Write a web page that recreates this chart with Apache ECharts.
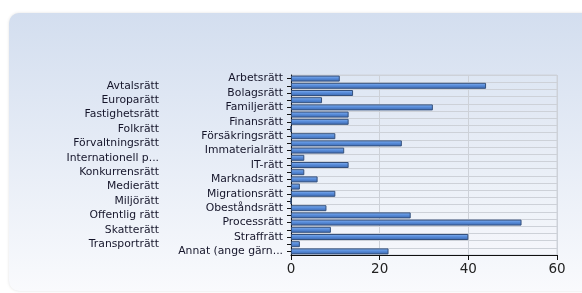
<!DOCTYPE html>
<html><head><meta charset="utf-8">
<script src="https://cdn.jsdelivr.net/npm/echarts@6/dist/echarts.min.js"></script>
<style>html,body{margin:0;padding:0;background:#fff}#c{width:582px;height:293px}</style>
</head><body><div id="c"></div>
<script>
const categories = ["Arbetsrätt","Avtalsrätt","Bolagsrätt","Europarätt","Familjerätt","Fastighetsrätt","Finansrätt","Folkrätt","Försäkringsrätt","Förvaltningsrätt","Immaterialrätt","Internationell p...","IT-rätt","Konkurrensrätt","Marknadsrätt","Medierätt","Migrationsrätt","Miljörätt","Obeståndsrätt","Offentlig rätt","Processrätt","Skatterätt","Straffrätt","Transporträtt","Annat (ange gärn..."];
const values = [11,44,14,7,32,13,13,0,10,25,12,3,13,3,6,2,10,0,8,27,52,9,40,2,22];
const xTicks = [0,20,40,60];

const FS = 10.8;
const chart = echarts.init(document.getElementById('c'), null, {renderer:'canvas'});
chart.setOption({
  animation:false,
  graphic:[{type:'rect',z:-10,shape:{x:9,y:13,width:600,height:278,r:10},
    style:{fill:new echarts.graphic.LinearGradient(0,0,0,1,[{offset:0,color:'#d3deef'},{offset:1,color:'#f9fafd'}]),
      shadowBlur:3,shadowColor:'rgba(0,0,0,0.12)'}}],
  grid:{left:291,top:75,right:25,bottom:38,show:true,borderColor:'#cfd3da',borderWidth:1,backgroundColor:'rgba(255,255,255,0.08)'},
  xAxis:{type:'value',min:xTicks[0],max:xTicks[xTicks.length-1],interval:20,
    axisLine:{show:true,lineStyle:{color:'#111',width:1}},
    axisTick:{show:true,length:5,lineStyle:{color:'#111'}},
    axisLabel:{fontFamily:'DejaVu Sans',fontSize:13.5,color:'#222',margin:7},
    splitLine:{show:true,lineStyle:{color:'#cdd1d8'}}},
  yAxis:{type:'category',data:categories,inverse:true,
    axisLine:{show:true,lineStyle:{color:'#111',width:1}},
    axisTick:{show:true,length:4,alignWithLabel:true,lineStyle:{color:'#111'}},
    splitLine:{show:true,lineStyle:{color:'#cdd1d8'}},
    axisLabel:{interval:0,margin:8,fontFamily:'DejaVu Sans',fontSize:FS,color:'#15152a',
      formatter:(v,i)=> i%2===1 ? '{l|'+v+'}' : '{r|'+v+'}',
      rich:{l:{padding:[0,124,0,0],fontFamily:'DejaVu Sans',fontSize:FS,color:'#15152a'},
            r:{fontFamily:'DejaVu Sans',fontSize:FS,color:'#15152a'}}}},
  series:[{type:'bar',data:values,barWidth:6,
    itemStyle:{borderColor:'#34507c',borderWidth:1,
      color:new echarts.graphic.LinearGradient(0,0,0,1,[{offset:0,color:'#8fb8f0'},{offset:0.4,color:'#5b90de'},{offset:1,color:'#3a66ad'}])}}]
});
</script></body></html>
